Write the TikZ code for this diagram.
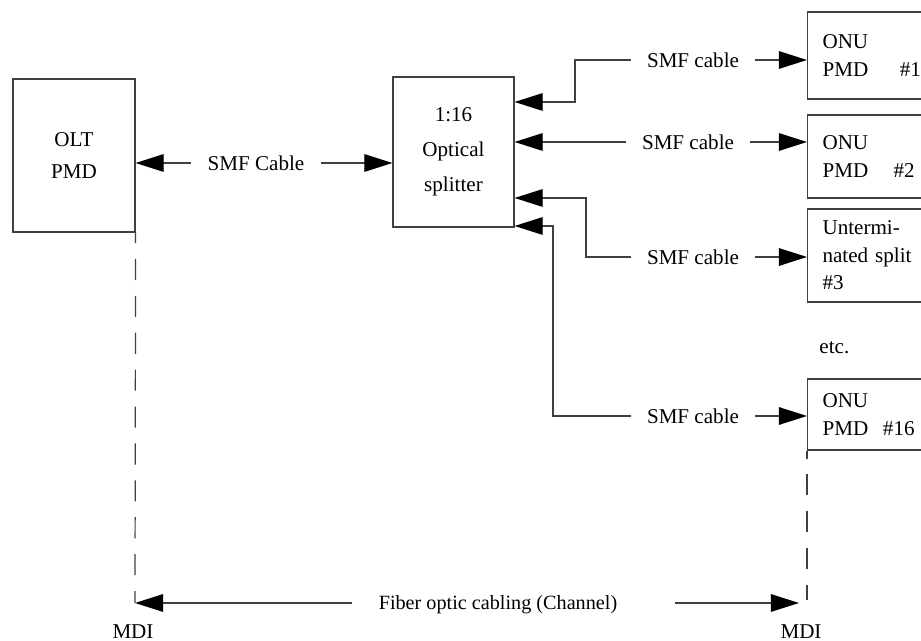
\documentclass[tikz,border=0pt]{standalone}
\usepackage{fontspec}
\setmainfont{Liberation Serif}
\usetikzlibrary{arrows.meta, positioning}

\begin{document}
\begin{tikzpicture}[x=0.02cm, y=-0.02cm, line width=0.7pt,
    every node/.style={font=\fontsize{12}{14}\selectfont},
    unit/.style={draw=black!75, minimum width=2.44cm, inner sep=0pt, align=center},
    onubox/.style={draw=black!75, anchor=west, text width=2.4cm, inner xsep=8.5pt, align=left, font=\fontsize{12}{16}\selectfont},
    cablelbl/.style={inner xsep=9pt},
    cable/.style={draw=black!75, -{Triangle[length=16pt, width=10pt, color=black]}},
    mdiline/.style={draw=black!75, dash pattern=on 12pt off 9pt}]
    \path[use as bounding box, clip] (0,0) rectangle (921,641);

    % OLT and splitter
    \node[unit, minimum height=3.06cm, font=\fontsize{12}{18.7}\selectfont] (olt) at (74,155.5) {OLT\\PMD};
    \node[unit, minimum width=2.42cm, minimum height=3cm, font=\fontsize{12}{19.8}\selectfont] (split) at (453.5,152) {1:16\\Optical\\splitter};

    % feeder cable
    \node[cablelbl] (smf0) at (256,163) {SMF Cable};
    \draw[cable] (smf0.west) -- (smf0.west -| olt.east);
    \draw[cable] (smf0.east) -- (smf0.east -| split.west);

    % ONU side
    \node[onubox, minimum height=1.74cm] (onu1) at (807,55.5) {ONU\\PMD\hspace{1.5em}\#1};
    \node[onubox, minimum height=1.66cm] (onu2) at (807,156.5) {ONU\\PMD\hspace{1.2em}\#2};
    \node[onubox, minimum height=1.86cm, font=\fontsize{12}{15.6}\selectfont] (unt) at (807,255.5) {Untermi-\\nated split\\\#3};
    \node[anchor=west] (etc) at (813,348) {etc.};
    \node[onubox, minimum height=1.42cm] (onu16) at (807,414.5) {ONU\\PMD\hspace{0.7em}\#16};

    % drop cables
    \foreach \n/\x/\y/\tgt in {1/693/60/onu1, 2/688/142/onu2, 3/693/257/unt, 4/693/416/onu16} {
        \node[cablelbl] (smf\n) at (\x,\y) {SMF cable};
        \draw[cable] (smf\n.east) -- (smf\n.east -| \tgt.west);
    }
    \coordinate (p1) at (split.east |- 0,102);
    \coordinate (p3) at (split.east |- 0,198);
    \coordinate (p4) at (split.east |- 0,226);
    \draw[cable] (smf1.west) -| (575,102) -- (p1);
    \draw[cable] (smf2.west) -- (smf2.west -| split.east);
    \draw[cable] (smf3.west) -| (586,198) -- (p3);
    \draw[cable] (smf4.west) -| (553,226) -- (p4);

    % MDI and channel
    \coordinate (dl) at (135,603);
    \coordinate (dr) at (807,600);
    \draw[mdiline, dash phase=6pt] (olt.south east) -- (dl);
    \draw[mdiline, dash phase=7.5pt] (onu16.south west) -- (dr);
    \node[font=\fontsize{11.5}{14}\selectfont] (chan) at (498,605) {Fiber optic cabling (Channel)};
    \coordinate (cl) at (352,603);
    \coordinate (cr) at (675,603);
    \coordinate (tr) at (799,603);
    \draw[cable] (cl) -- (dl);
    \draw[cable] (cr) -- (tr);
    \node (mdi1) at (133,632) {MDI};
    \node (mdi2) at (801,632) {MDI};
\end{tikzpicture}
\end{document}
